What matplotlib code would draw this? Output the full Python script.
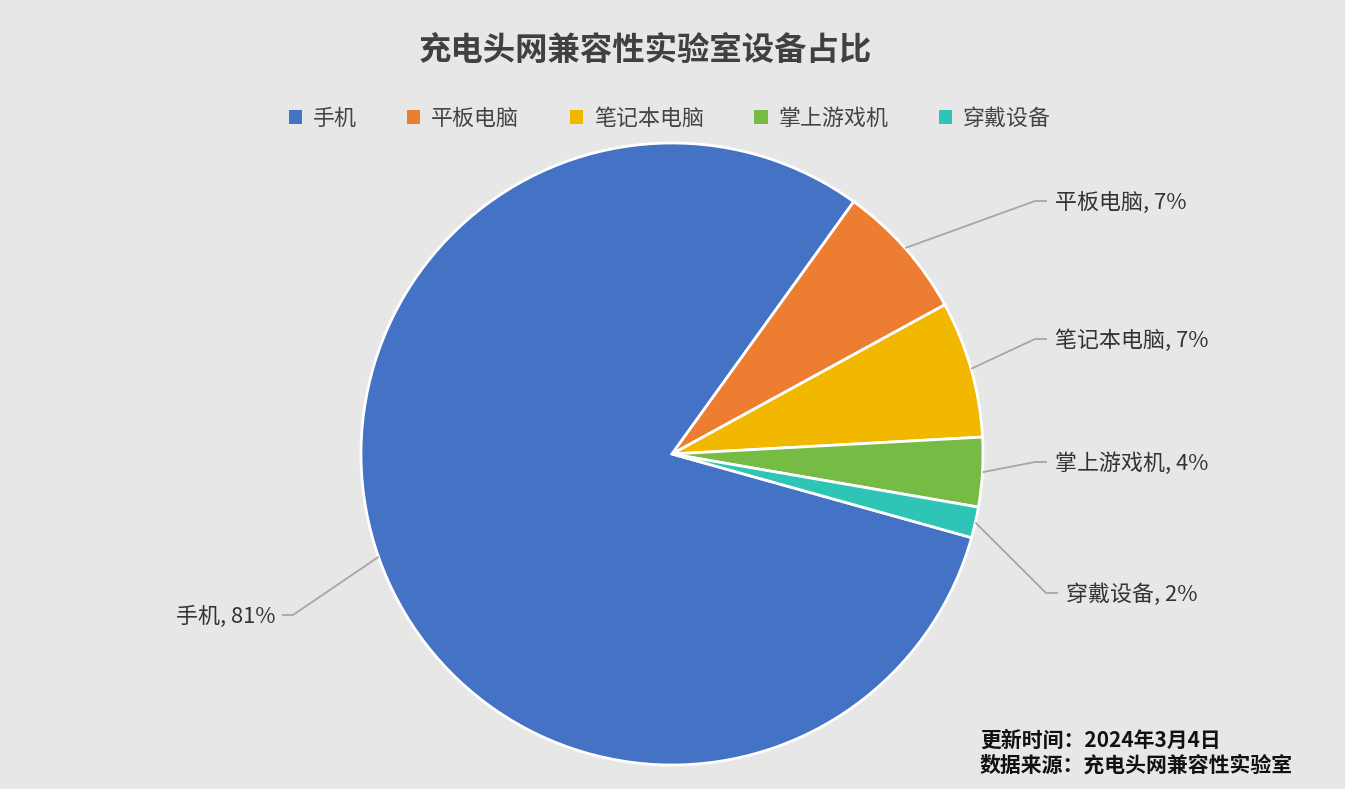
import numpy as np
import matplotlib
matplotlib.use('Agg')
import matplotlib.pyplot as plt

plt.rcParams['font.family'] = ['Noto Sans CJK SC', 'DejaVu Sans']

# data
categories = ['手机', '平板电脑', '笔记本电脑', '掌上游戏机', '穿戴设备']
shares = [80.6, 7.1, 7.1, 3.6, 1.6]
shown_pct = [81, 7, 7, 4, 2]
colors = ['#4472C4', '#ED7D31', '#F2B800', '#76BB44', '#2EC4B6']

title = '充电头网兼容性实验室设备占比'
footer = ['更新时间：2024年3月4日', '数据来源：充电头网兼容性实验室']

W, H = 1345, 789
bg = '#E7E7E7'

fig = plt.figure(figsize=(W / 100, H / 100), dpi=100, facecolor=bg)
ax = fig.add_axes([0, 0, 1, 1])
ax.set_facecolor(bg)

cx, cy, r = 672, H - 454, 311
wedges, _ = ax.pie(shares, colors=colors, startangle=-15.6, counterclock=False,
                   center=(cx, cy), radius=r, frame=True,
                   wedgeprops=dict(edgecolor='white', linewidth=2))
ax.set_xlim(0, W)
ax.set_ylim(0, H)
ax.set_aspect('equal')
ax.axis('off')

# label anchors (pixel coords from top), text side
label_pos = [(282, 615, 'right'), (1047, 201, 'left'), (1047, 339, 'left'),
             (1047, 462, 'left'), (1058, 593, 'left')]
for w, name, pct, (lx, ly, side) in zip(wedges, categories, shown_pct, label_pos):
    mid = np.deg2rad((w.theta1 + w.theta2) / 2)
    ex, ey = cx + r * np.cos(mid), cy + r * np.sin(mid)
    ly = H - ly
    if side == 'left':
        kx = lx - 12
        tx = lx + 8
        ha = 'left'
    else:
        kx = lx + 11
        tx = lx - 7
        ha = 'right'
    ax.plot([ex, kx, lx], [ey, ly, ly], color='#A6A6A6', lw=1.3, solid_capstyle='butt')
    ax.text(tx, ly - 2, f'{name}, {pct}%', ha=ha, va='center', fontsize=15.8,
            color='#333333', fontweight='medium')

fig.text(0.48, 1 - 50 / H, title, ha='center', va='center', fontsize=23.3,
         fontweight='bold', color='#404040')

leg = fig.legend(wedges, categories, loc='center', bbox_to_anchor=(0.498, 1 - 119 / H),
                 ncol=5, frameon=False, labelcolor='#444444',
                 handlelength=0.6, handleheight=0.6, handletextpad=0.5,
                 columnspacing=2.3, prop=dict(size=15.8, weight='medium'))
for h in leg.legend_handles:
    h.set_edgecolor('none')

for i, line in enumerate(footer):
    fig.text(980 / W, 1 - (740 + 25 * i) / H, line, ha='left', va='center',
             fontsize=15, fontweight='bold', color='#111111')

fig.savefig('out.png', dpi=100, facecolor=bg)
